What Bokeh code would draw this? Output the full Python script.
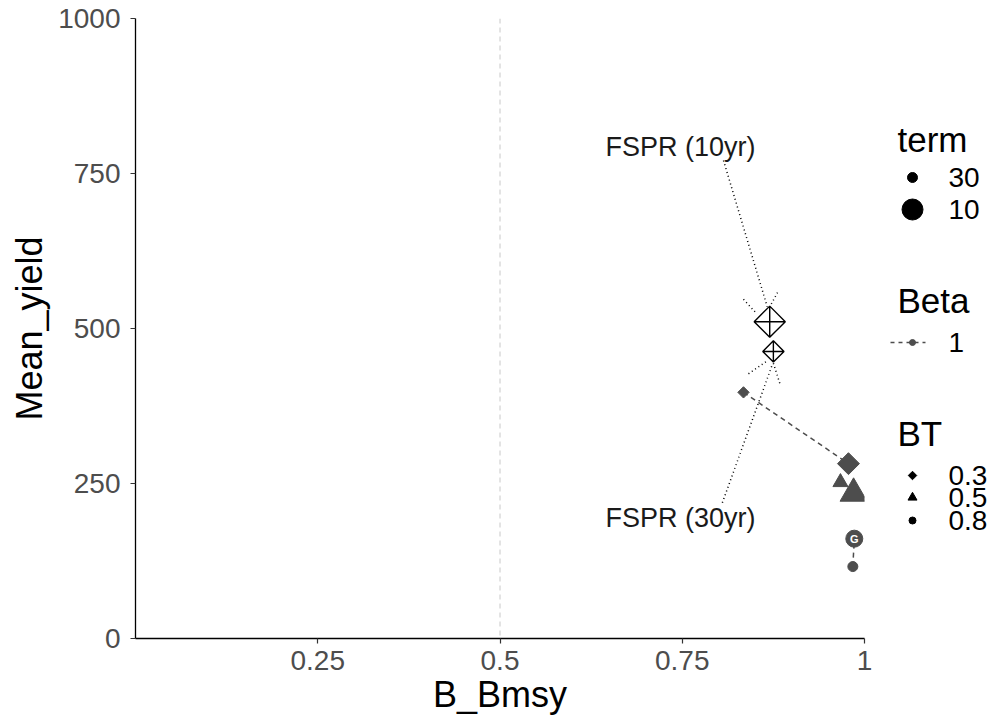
import numpy as np
from bokeh.plotting import figure
from bokeh.models import Range1d, FixedTicker, Span, ColumnDataSource
from bokeh.layouts import row
from bokeh.embed import file_html
from bokeh.resources import INLINE
from bokeh.core.properties import value

# ---------------- data ----------------
BT = [0.3, 0.3, 0.5, 0.5, 0.8, 0.8]
term = [30, 10, 30, 10, 10, 30]
Beta = [1, 1, 1, 1, 1, 1]
B_Bmsy = [0.834, 0.978, 0.967, 0.985, 0.986, 0.984]
Mean_yield = [397, 282, 252, 234, 161, 116]

fspr_term = [10, 30]
fspr_B_Bmsy = [0.870, 0.875]
fspr_yield = [511, 463]
fspr_labels = ["FSPR (10yr)", "FSPR (30yr)"]
fspr_label_x = [0.7476, 0.7476]
fspr_label_y = [792, 195]

# dotted leader segments (data coordinates)
seg_x0 = [0.8066, 0.805, 0.834, 0.8807, 0.8409, 0.875]
seg_y0 = [771, 219, 547, 558, 427, 444]
seg_x1 = [0.8666, 0.873, 0.8505, 0.871, 0.867, 0.8848]
seg_y1 = [535, 440, 526, 537, 448, 408]

g_text = ["G"]          # marked point: BT 0.8, term 10

x_ticks = [0.25, 0.5, 0.75, 1]
x_tick_labels = ["0.25", "0.5", "0.75", "1"]
y_ticks = [0, 250, 500, 750, 1000]

term_levels = ["30", "10"]
beta_levels = ["1"]
bt_levels = ["0.3", "0.5", "0.8"]
legend_titles = ["term", "Beta", "BT"]

# ---------------- styles ----------------
FONT = "Liberation Sans"
PT = "#4d4d4d"
marker_map = {0.3: "square", 0.5: "triangle", 0.8: "circle"}
angle_map = {0.3: np.pi / 4, 0.5: 0.0, 0.8: 0.0}
size_map = {(0.3, 30): 8, (0.3, 10): 15.5, (0.5, 30): 15, (0.5, 10): 27,
            (0.8, 30): 10, (0.8, 10): 17}
fspr_size = {10: 22, 30: 15}

# ---------------- main figure ----------------
p = figure(width=874, height=720, x_range=Range1d(0, 1), y_range=Range1d(0, 1000),
           output_backend="svg", toolbar_location=None,
           min_border_left=135, min_border_right=10, min_border_top=18, min_border_bottom=82)
p.grid.visible = False
p.outline_line_color = None
for ax in (p.xaxis[0], p.yaxis[0]):
    ax.axis_line_color = "black"
    ax.axis_line_width = 1.3
    ax.major_tick_line_color = "#333333"
    ax.major_tick_line_width = 1.2
    ax.major_tick_out = 5
    ax.major_tick_in = 0
    ax.minor_tick_line_color = None
    ax.major_label_text_font = FONT
    ax.major_label_text_font_size = "28px"
    ax.major_label_text_color = "#4d4d4d"
    ax.axis_label_text_font = FONT
    ax.axis_label_text_font_size = "36px"
    ax.axis_label_text_font_style = "normal"
    ax.axis_label_text_color = "black"
p.xaxis.axis_label = "B_Bmsy"
p.yaxis.axis_label = "Mean_yield"
p.xaxis.ticker = FixedTicker(ticks=x_ticks)
p.xaxis.major_label_overrides = dict(zip(x_ticks, x_tick_labels))
p.yaxis.ticker = FixedTicker(ticks=y_ticks)
p.xaxis.major_label_standoff = 7
p.yaxis.major_label_standoff = 10
p.xaxis.axis_label_standoff = 1
p.yaxis.axis_label_standoff = 5

p.add_layout(Span(location=0.5, dimension="height", line_color="#c8c8c8",
                  line_dash="5 4", line_width=1))

# Beta dashed lines (one per BT group, term 30 -> term 10)
xs, ys = [], []
for lvl in sorted(set(BT)):
    idx = [i for i, b in enumerate(BT) if b == lvl]
    idx.sort(key=lambda i: -term[i])
    xs.append([B_Bmsy[i] for i in idx])
    ys.append([Mean_yield[i] for i in idx])
p.multi_line(xs=xs, ys=ys, line_color=PT, line_dash="5 4", line_width=1.5)

src = ColumnDataSource(dict(
    x=B_Bmsy, y=Mean_yield,
    marker=[marker_map[b] for b in BT],
    angle=[angle_map[b] for b in BT],
    size=[size_map[(b, t)] for b, t in zip(BT, term)],
))
p.scatter(x="x", y="y", marker="marker", angle="angle", size="size", source=src,
          fill_color=PT, line_color=PT)

gi = [i for i in range(len(BT)) if BT[i] == 0.8 and term[i] == 10][0]
p.text(x=[B_Bmsy[gi]], y=[Mean_yield[gi]], text=g_text, text_color="white",
       text_font=value(FONT), text_font_size="11px", text_font_style="bold",
       text_align="center", text_baseline="middle")

# leader segments
p.segment(x0=seg_x0, y0=seg_y0, x1=seg_x1, y1=seg_y1, line_color="black",
          line_dash="1 3", line_width=1.5)

# FSPR points
p.scatter(x=fspr_B_Bmsy, y=fspr_yield, marker="square_x", angle=np.pi / 4,
          size=[fspr_size[t] for t in fspr_term], fill_color="white",
          line_color="black", line_width=1.4)

p.text(x=fspr_label_x, y=fspr_label_y, text=fspr_labels, text_font=value(FONT),
       text_font_size="27px", text_color="#1a1a1a", text_align="center",
       text_baseline="middle")

# ---------------- legend figure ----------------
# frame is aligned with the main frame (page y 18..638), so use page-pixel coordinates
leg = figure(width=120, height=720, x_range=Range1d(0, 120), y_range=Range1d(638, 18),
             output_backend="svg", toolbar_location=None, min_border=0,
             x_axis_type=None, y_axis_type=None)
leg.grid.visible = False
leg.outline_line_color = None

TX, KX, LX = 23, 38, 74
title_y = [139, 300, 433]
leg.text(x=[TX] * 3, y=title_y, text=legend_titles, text_font=value(FONT),
         text_font_size="35px", text_color="black", text_baseline="alphabetic")

term_y = [177, 209]
leg.scatter(x=[KX] * 2, y=term_y, size=[10, 21], marker="circle",
            fill_color="black", line_color="black")
leg.text(x=[LX] * 2, y=term_y, text=term_levels, text_font=value(FONT),
         text_font_size="28px", text_color="black", text_baseline="middle")

beta_y = [342]
leg.segment(x0=[KX - 22], y0=beta_y, x1=[KX + 13], y1=beta_y, line_color=PT,
            line_dash="4 4", line_width=1.5)
leg.scatter(x=[KX], y=beta_y, size=6, marker="circle", fill_color=PT, line_color=PT)
leg.text(x=[LX], y=beta_y, text=beta_levels, text_font=value(FONT),
         text_font_size="28px", text_color="black", text_baseline="middle")

bt_y = [475, 497, 520]
leg.scatter(x=[KX] * 3, y=bt_y, marker=["square", "triangle", "circle"],
            angle=[np.pi / 4, 0, 0], size=[6, 9, 7], fill_color="black", line_color="black")
leg.text(x=[LX] * 3, y=bt_y, text=bt_levels, text_font=value(FONT),
         text_font_size="28px", text_color="black", text_baseline="middle")

layout = row(p, leg)
open("out.html", "w").write(file_html(layout, INLINE))
